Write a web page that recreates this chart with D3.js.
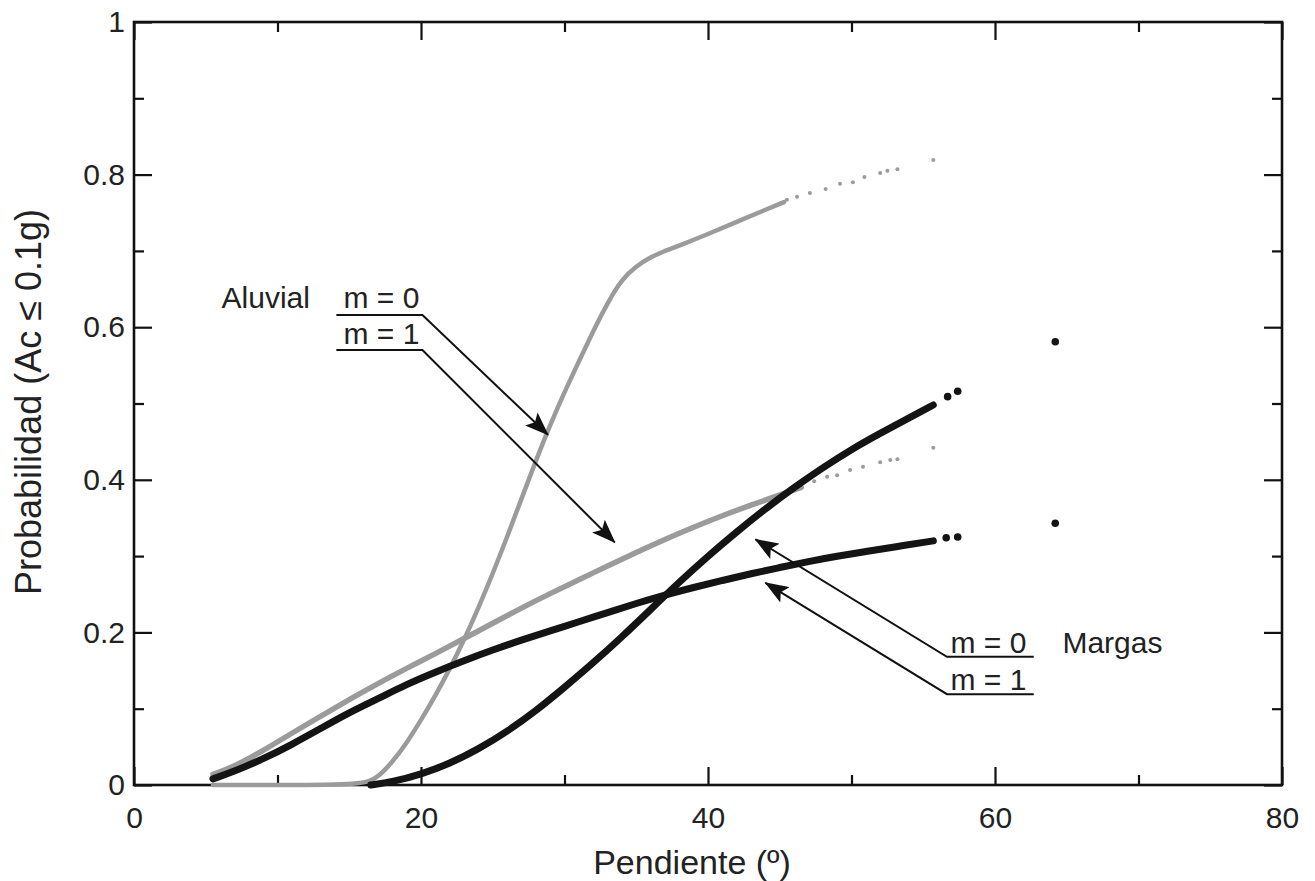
<!DOCTYPE html>
<html>
<head>
<meta charset="utf-8">
<script src="https://cdn.jsdelivr.net/npm/d3@7"></script>
<style>
	body { margin: 0; background: #fff; }
	text { font-family: "Liberation Sans", Arial, sans-serif; fill: #222; }
</style>
</head>
<body>
<svg id="plot" width="1315" height="881"></svg>
<script>
// Pendiente (deg) vs probabilidad
const aluvialM0 = [[5.5,0],[10,0],[16,0],[17,0.01],[18,0.03],[19,0.055],[20,0.085],[21,0.117],[22,0.152],[23,0.19],[24,0.232],
	[25,0.277],[26,0.325],[27,0.375],[28,0.425],[29,0.472],[30,0.515],[31,0.555],[32,0.595],[33,0.632],[34,0.663],[35,0.68],
	[36,0.692],[37,0.7],[38,0.707],[40,0.722],[42,0.738],[44,0.754],[45.3,0.764]];
const aluvialM0Tail = [[45.5,0.767],[46.2,0.771],[47.1,0.776],[48.2,0.781],[49.2,0.788],[50.1,0.79],[50.9,0.797],
	[52.0,0.802],[52.5,0.805],[53.2,0.807],[55.7,0.819]];

const aluvialM1 = [[5.5,0.014],[7,0.024],[9,0.045],[11,0.068],[13,0.09],[15,0.112],[17,0.133],[19,0.153],[21,0.172],
	[23,0.192],[25,0.212],[27,0.232],[29,0.251],[31,0.269],[33,0.287],[35,0.305],[37,0.322],[39,0.338],[41,0.353],
	[43,0.367],[45,0.38],[46.5,0.39]];
const aluvialM1Tail = [[47.4,0.398],[48.3,0.404],[49,0.406],[49.9,0.413],[50.8,0.417],[52,0.423],[52.7,0.426],
	[53.2,0.427],[55.7,0.442]];

const margasM0 = [[16.5,0],[18,0.004],[20,0.014],[22,0.028],[24,0.047],[26,0.07],[28,0.097],[30,0.128],[32,0.16],
	[34,0.194],[36,0.23],[38,0.266],[40,0.3],[42,0.332],[44,0.362],[46,0.39],[48,0.416],[50,0.44],[52,0.461],
	[54,0.481],[55.7,0.498]];
const margasM0Tail = [[56.7,0.509],[57.4,0.516],[64.2,0.581]];

const margasM1 = [[5.5,0.008],[7,0.018],[9,0.034],[11,0.053],[13,0.074],[15,0.095],[17,0.113],[19,0.132],[21,0.148],
	[23,0.163],[25,0.177],[27,0.19],[29,0.202],[31,0.214],[33,0.226],[35,0.238],[37,0.249],[39,0.259],[41,0.268],
	[43,0.277],[45,0.285],[47,0.293],[49,0.3],[51,0.306],[53,0.312],[55.7,0.32]];
const margasM1Tail = [[56.6,0.324],[57.4,0.325],[64.2,0.343]];

const xTicks = [0, 20, 40, 60, 80];
const xMinor = [10, 30, 50, 70];
const yTicks = [0, 0.2, 0.4, 0.6, 0.8, 1];
const yMinor = [0.1, 0.3, 0.5, 0.7, 0.9];

const svg = d3.select('#plot');
const margin = {top: 22, right: 33, bottom: 96, left: 134};
const width = 1315 - margin.left - margin.right;
const height = 881 - margin.top - margin.bottom;

const x = d3.scaleLinear().domain([0, 80]).range([margin.left, margin.left + width]);
const y = d3.scaleLinear().domain([0, 1]).range([margin.top + height, margin.top]);

const gray = '#9b9b9b';
const black = '#141414';

// arrow head
svg.append('defs').append('marker')
	.attr('id', 'head')
	.attr('markerUnits', 'userSpaceOnUse')
	.attr('viewBox', '0 0 24 18')
	.attr('refX', 23).attr('refY', 9)
	.attr('markerWidth', 24).attr('markerHeight', 18)
	.attr('orient', 'auto')
	.append('path')
	.attr('d', 'M0,0 L24,9 L0,18 L5,9 Z')
	.style('fill', '#111');

// axes (ticks inward on all four sides)
const bottomAxis = d3.axisBottom(x).tickValues(xTicks).tickSize(-18).tickPadding(28).tickFormat(d3.format('d'));
const leftAxis = d3.axisLeft(y).tickValues(yTicks).tickSize(-18).tickPadding(9).tickFormat(d => d === 0 || d === 1 ? d : d3.format('.1f')(d));

const gx = svg.append('g').attr('transform', 'translate(0,' + (margin.top + height) + ')').call(bottomAxis);
const gy = svg.append('g').attr('transform', 'translate(' + margin.left + ',0)').call(leftAxis);
svg.append('g').attr('transform', 'translate(0,' + (margin.top + height) + ')')
	.call(d3.axisBottom(x).tickValues(xMinor).tickSize(-10).tickFormat(''));
svg.append('g').attr('transform', 'translate(' + margin.left + ',0)')
	.call(d3.axisLeft(y).tickValues(yMinor).tickSize(-10).tickFormat(''));
svg.append('g').attr('transform', 'translate(0,' + margin.top + ')')
	.call(d3.axisTop(x).tickValues(xTicks).tickSize(-18).tickFormat(''));
svg.append('g').attr('transform', 'translate(0,' + margin.top + ')')
	.call(d3.axisTop(x).tickValues(xMinor).tickSize(-10).tickFormat(''));
svg.append('g').attr('transform', 'translate(' + (margin.left + width) + ',0)')
	.call(d3.axisRight(y).tickValues(yTicks).tickSize(-18).tickFormat(''));
svg.append('g').attr('transform', 'translate(' + (margin.left + width) + ',0)')
	.call(d3.axisRight(y).tickValues(yMinor).tickSize(-10).tickFormat(''));

svg.selectAll('.domain').remove();
svg.selectAll('.tick line').style('stroke', '#111').style('stroke-width', 2.2);
svg.selectAll('.tick text').style('font-size', '30px').style('fill', '#222');
gx.selectAll('.tick text').attr('dy', null).attr('y', 43);

svg.append('rect')
	.attr('x', margin.left).attr('y', margin.top)
	.attr('width', width).attr('height', height)
	.style('fill', 'none').style('stroke', '#111').style('stroke-width', 2.6);

// axis titles
svg.append('text')
	.attr('x', 692).attr('y', 874)
	.attr('text-anchor', 'middle')
	.style('font-size', '34px')
	.text('Pendiente (º)');
svg.append('text')
	.attr('transform', 'translate(41,402) rotate(-90)')
	.attr('text-anchor', 'middle')
	.style('font-size', '36px')
	.text('Probabilidad (Ac ≤ 0.1g)');

// curves
const line = d3.line().x(d => x(d[0])).y(d => y(d[1])).curve(d3.curveBasis);

const curves = svg.append('g');
curves.append('path').datum(aluvialM1).attr('d', line)
	.style('fill', 'none').style('stroke', gray).style('stroke-width', 5.5).style('stroke-linecap', 'round');
curves.append('path').datum(aluvialM0).attr('d', line)
	.style('fill', 'none').style('stroke', gray).style('stroke-width', 4.5).style('stroke-linecap', 'round');
curves.append('path').datum(margasM1).attr('d', line)
	.style('fill', 'none').style('stroke', black).style('stroke-width', 7).style('stroke-linecap', 'round');
curves.append('path').datum(margasM0).attr('d', line)
	.style('fill', 'none').style('stroke', black).style('stroke-width', 7).style('stroke-linecap', 'round');

curves.selectAll('.gdot')
	.data(aluvialM0Tail.concat(aluvialM1Tail))
	.enter().append('circle')
	.attr('cx', d => x(d[0])).attr('cy', d => y(d[1]))
	.attr('r', 2)
	.style('fill', gray);
curves.selectAll('.bdot')
	.data(margasM0Tail.concat(margasM1Tail))
	.enter().append('circle')
	.attr('cx', d => x(d[0])).attr('cy', d => y(d[1]))
	.attr('r', 3.8)
	.style('fill', black);

// annotations
const labels = [
	{t: 'Aluvial', x: 6.1, y: 0.625},
	{t: 'm = 0', x: 14.6, y: 0.625},
	{t: 'm = 1', x: 14.6, y: 0.578},
	{t: 'm = 0', x: 56.9, y: 0.173},
	{t: 'Margas', x: 64.7, y: 0.173},
	{t: 'm = 1', x: 56.9, y: 0.124}
];
svg.selectAll('.lab').data(labels).enter().append('text')
	.attr('x', d => x(d.x)).attr('y', d => y(d.y))
	.style('font-size', '30px')
	.text(d => d.t);

const arrows = [
	[[14.1, 0.616], [20.1, 0.616], [28.85, 0.459]],
	[[14.1, 0.570], [20.1, 0.570], [33.5, 0.318]],
	[[62.7, 0.168], [56.65, 0.168], [43.3, 0.322]],
	[[62.7, 0.119], [56.65, 0.119], [44.0, 0.265]]
];
const straight = d3.line().x(d => x(d[0])).y(d => y(d[1]));
svg.selectAll('.arrow').data(arrows).enter().append('path')
	.attr('d', straight)
	.attr('marker-end', 'url(#head)')
	.style('fill', 'none').style('stroke', '#111').style('stroke-width', 2);
</script>
</body>
</html>
